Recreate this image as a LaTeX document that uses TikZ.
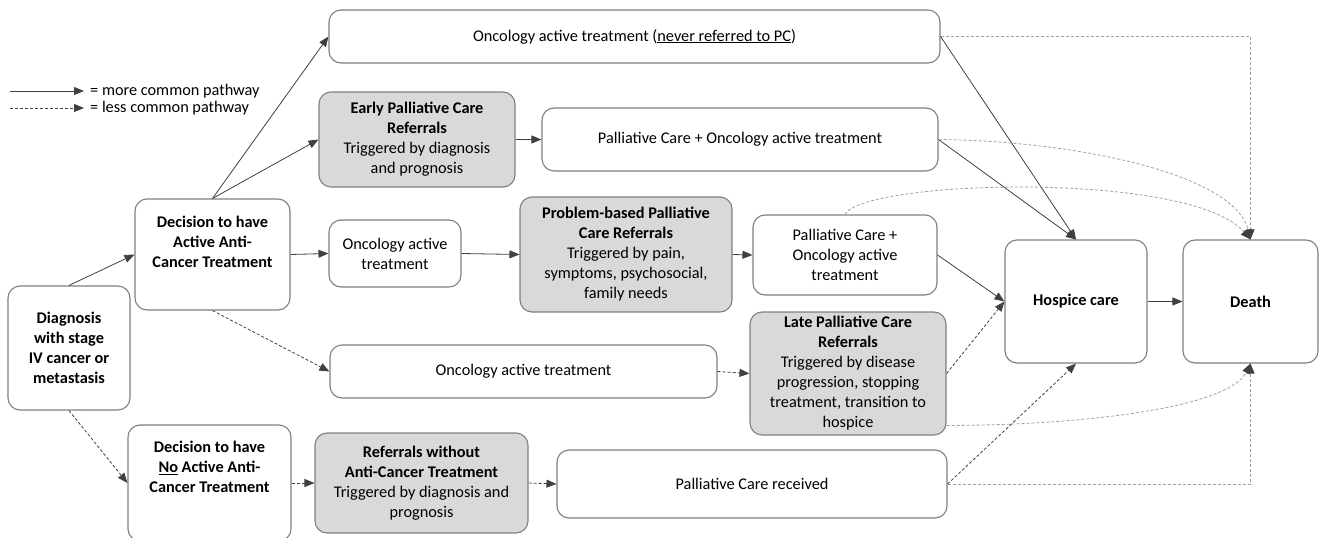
\documentclass[tikz,border=0pt]{standalone}
\usepackage{fontspec}
\setmainfont{Carlito}
\usetikzlibrary{arrows.meta,calc}
\definecolor{bordergray}{HTML}{7F7F7F}
\definecolor{fillgray}{HTML}{D9D9D9}
\definecolor{arrowdark}{HTML}{404040}
\definecolor{arrowlight}{HTML}{A0A0A0}
\begin{document}
\begin{tikzpicture}[x=1pt,y=-1pt,
  box/.style={draw=bordergray,line width=1.1pt,rounded corners=12pt,fill=white,align=center,inner sep=0pt,font=\fontsize{16.3}{20}\selectfont},
  graybox/.style={box,fill=fillgray},
  txt/.style={align=center,inner sep=0pt,font=\fontsize{16.3}{20}\selectfont},
  conn/.style={draw=arrowdark,line width=0.8pt,-{Triangle[length=10pt,width=8pt,color=arrowdark]}},
  dconn/.style={conn,dash pattern=on 3pt off 2pt},
  gconn/.style={dconn,draw=arrowlight}]
\useasboundingbox (0,0) rectangle (1325,538);

% legend
\coordinate (la) at (10,91);
\coordinate (lb) at (84,91);
\coordinate (lc) at (10,108);
\coordinate (ld) at (84,108);
\draw[conn] (la) -- (lb);
\draw[dconn] (lc) -- (ld);
\node[txt,anchor=west] (lt1) at (90,91) {= more common pathway};
\node[txt,anchor=west] (lt2) at (90,108) {= less common pathway};

% nodes
\node[box,minimum width=122pt,minimum height=124pt] (diag) at (69,348) {\bfseries Diagnosis\\\bfseries with stage\\\bfseries IV cancer or\\\bfseries metastasis};
\node[box,minimum width=155pt,minimum height=111pt] (decA) at (212.5,254.5) {};
\node[txt,font=\fontsize{16.3}{20}\selectfont\bfseries] (decAt) at (212.5,242) {Decision to have\\Active Anti-\\Cancer Treatment};
\node[box,minimum width=163pt,minimum height=116pt] (decN) at (209.5,483) {};
\node[txt,font=\fontsize{16.3}{20}\selectfont\bfseries] (decNt) at (209.5,467) {Decision to have\\\underline{No} Active Anti-\\Cancer Treatment};

\node[box,minimum width=611pt,minimum height=53pt] (top) at (634.5,36.5) {Oncology active treatment (\underline{never referred to PC})};
\node[graybox,minimum width=196pt,minimum height=95pt] (early) at (417,139.5) {\textbf{Early Palliative Care}\\\textbf{Referrals}\\Triggered by diagnosis\\and prognosis};
\node[box,minimum width=396pt,minimum height=63pt] (pc2) at (740,139.5) {Palliative Care + Oncology active treatment};

\node[box,minimum width=132pt,minimum height=67pt] (onc3) at (395,253.5) {Oncology active\\treatment};
\node[graybox,minimum width=212pt,minimum height=115pt] (prob) at (626,254.5) {\textbf{Problem-based Palliative}\\\textbf{Care Referrals}\\Triggered by pain,\\symptoms, psychosocial,\\family needs};
\node[box,minimum width=184pt,minimum height=80pt] (pc3) at (845,255) {Palliative Care +\\Oncology active\\treatment};

\node[box,minimum width=142pt,minimum height=123pt] (hosp) at (1076,301.5) {\bfseries Hospice care};
\node[box,minimum width=135pt,minimum height=123pt] (death) at (1250.5,301.5) {\bfseries Death};

\node[box,minimum width=387pt,minimum height=53pt] (onc4) at (523.5,371.5) {Oncology active treatment};
\node[graybox,minimum width=196pt,minimum height=123pt] (late) at (848,373.5) {\textbf{Late Palliative Care}\\\textbf{Referrals}\\Triggered by disease\\progression, stopping\\treatment, transition to\\hospice};

\node[graybox,minimum width=213pt,minimum height=100pt] (refw) at (421.5,483) {\textbf{Referrals without}\\\textbf{Anti-Cancer Treatment}\\Triggered by diagnosis and\\prognosis};
\node[box,minimum width=390pt,minimum height=68pt] (pcr) at (752,484) {Palliative Care received};

% connectors
\draw[conn] (diag.north) -- (decA.west);
\draw[dconn] (diag.south) -- (decN.west);
\draw[conn] (decA.north) -- (top.west);
\draw[conn] (decA.north) -- (early.west);
\draw[conn] (decA.east) -- (onc3.west);
\draw[dconn] (decA.south) -- (onc4.west);
\draw[conn] (early.east) -- (pc2.west);
\draw[conn] (onc3.east) -- (prob.west);
\draw[conn] (prob.east) -- (pc3.west);
\draw[dconn] (onc4.east) -- (late.west);
\draw[dconn] (decN.east) -- (refw.west);
\draw[dconn] (refw.east) -- (pcr.west);

\draw[conn] (top.east) -- (hosp.north);
\draw[gconn] (top.east) -| (death.north);
\draw[conn] (pc2.east) -- (hosp.north);
\draw[gconn] (pc2.east) .. controls (1080,141) and (1235,175) .. (death.north);
\draw[gconn] (pc3.north) .. controls (862,180) and (1190,170) .. (death.north);
\draw[conn] (pc3.east) -- (hosp.west);
\draw[dconn] (late.east) -- (hosp.west);
\draw[gconn] ([yshift=-52pt]late.east) .. controls (1100,425) and (1230,405) .. (death.south);
\draw[dconn] (pcr.east) -- (hosp.south);
\draw[gconn] (pcr.east) -| (death.south);
\draw[conn] (hosp.east) -- (death.west);
\end{tikzpicture}
\end{document}
